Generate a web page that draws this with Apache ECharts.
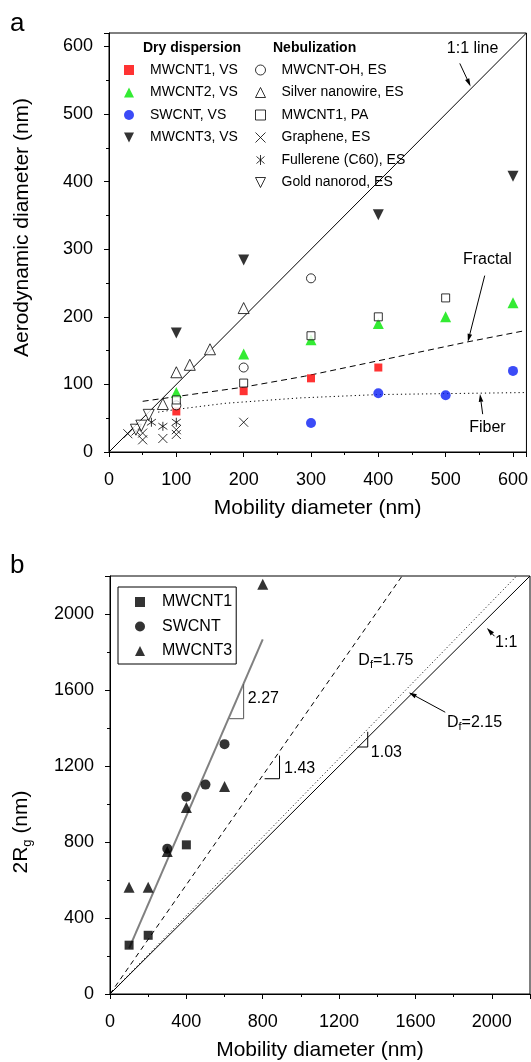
<!DOCTYPE html>
<html>
<head>
<meta charset="utf-8">
<script src="https://cdn.jsdelivr.net/npm/echarts@6/dist/echarts.min.js"></script>
<style>
  html, body { margin: 0; padding: 0; background: #fff; }
  #chart { width: 531px; height: 1062px; }
</style>
</head>
<body>
<div id="chart"></div>
<script>
// ---- panel a : aerodynamic vs mobility diameter (nm) ----
// dry dispersion, vortex shaker
const mwcnt1VS = [[100, 60], [200, 90], [300, 109], [400, 125]];
const mwcnt2VS = [[100, 88], [200, 145], [300, 166], [400, 190], [500, 200], [600, 221]];
const swcntVS = [[300, 43], [400, 87], [500, 84], [600, 120]];
const mwcnt3VS = [[100, 176], [200, 284], [400, 351], [600, 408]];
// nebulization
const mwcntOH = [[100, 69], [200, 125], [300, 257]];
const silverNW = [[80, 71], [100, 118], [120, 129], [150, 152], [200, 213]];
const mwcnt1PA = [[100, 77], [200, 102], [300, 172], [400, 200], [500, 228]];
const graphene = [[28, 27], [40, 31], [50, 18], [50, 28], [80, 20], [100, 26], [100, 33], [200, 44]];
const fullerene = [[63, 44], [80, 38], [100, 44]];
const goldNR = [[40, 33], [48, 39], [59, 55]];
// model curves
const oneToOneA = [[0, 0], [620, 620]];
const fractalCurve = [[50, 75], [200, 96], [290, 112], [400, 135], [533, 163], [620, 180]];
const fiberCurve = [[73, 59], [100, 63], [172, 72], [283, 80], [400, 85], [620, 88]];
const ticksA = [0, 100, 200, 300, 400, 500, 600];

// ---- panel b : 2Rg vs mobility diameter (nm) ----
const mwcnt1B = [[100, 257], [200, 309], [400, 785]];
const swcntB = [[300, 765], [400, 1038], [500, 1102], [600, 1315]];
const mwcnt3B = [[100, 562], [200, 562], [300, 750], [400, 982], [600, 1092], [800, 2156]];
const fitLine = [[100, 240], [800, 1866]];
const df175 = [[0, 0], [1530, 2200]];
const df215 = [[0, 0], [2130, 2200]];
const oneToOneB = [[0, 0], [2200, 2200]];
const ticksB = [0, 400, 800, 1200, 1600, 2000];

const FONT = 'Liberation Sans, Arial, sans-serif';
const DOWN_TRI = 'path://M0 0L10 0L5 10Z';

function axis(gridIndex, max, interval, ticks, name, gap, margin, extra) {
  return Object.assign({
    type: 'value', gridIndex: gridIndex, min: 0, max: max, interval: interval,
    name: name, nameLocation: 'middle', nameGap: gap,
    nameTextStyle: {fontSize: 21, color: '#000', fontFamily: FONT},
    axisLine: {show: true, onZero: false, lineStyle: {color: '#000', width: 1}},
    axisTick: {show: true, inside: false, length: 5, lineStyle: {color: '#000', width: 1}},
    minorTick: {show: true, splitNumber: 2, length: 3, lineStyle: {color: '#000', width: 1}},
    axisLabel: {
      fontSize: 18, color: '#000', fontFamily: FONT, margin: margin, showMaxLabel: false,
      formatter: v => (ticks.indexOf(v) >= 0 ? String(v) : '')
    },
    splitLine: {show: false}
  }, extra || {});
}

function scatter(name, data, symbol, size, color, opts) {
  return Object.assign({
    name: name, type: 'scatter', data: data, symbol: symbol, symbolSize: size,
    itemStyle: {color: color}, z: 5
  }, opts || {});
}
const open = {color: '#fff', borderColor: '#000', borderWidth: 1};
const stroke = {color: 'rgba(0,0,0,0)', borderColor: '#000', borderWidth: 1};

function line(data, xi, color, width, type) {
  return {
    type: 'line', xAxisIndex: xi, yAxisIndex: xi, data: data, showSymbol: false, symbol: 'none',
    lineStyle: {color: color, width: width, type: type}, z: 2
  };
}

const legendText = {fontSize: 14, lineHeight: 10, color: '#000', fontFamily: FONT, padding: [0, 0, 0, 11]};

const option = {
  animation: false,
  textStyle: {fontFamily: FONT},
  grid: [
    {left: 109, top: 33, width: 419, height: 419, show: true, borderColor: '#000', borderWidth: 1},
    {left: 109, top: 576, width: 421, height: 420, show: true, borderColor: '#000', borderWidth: 1}
  ],
  xAxis: [
    axis(0, 620, 100, ticksA, 'Mobility diameter (nm)', 46, 19),
    axis(1, 2200, 400, ticksB, 'Mobility diameter (nm)', 46, 19)
  ],
  yAxis: [
    axis(0, 620, 100, ticksA, 'Aerodynamic diameter (nm)', 76, 16, {
      nameTextStyle: {fontSize: 21, color: '#000', fontFamily: FONT, padding: [0, 0, 0, 30]}
    }),
    axis(1, 2200, 400, ticksB, '2R{s|g} (nm)', 76, 16, {
      nameTextStyle: {
        fontSize: 21, color: '#000', fontFamily: FONT, lineHeight: 26, padding: [0, 94, 0, 0],
        rich: {s: {fontSize: 13, fontFamily: FONT, color: '#000', verticalAlign: 'bottom', lineHeight: 13}}
      }
    })
  ],
  legend: [
    {
      data: ['MWCNT1, VS', 'MWCNT2, VS', 'SWCNT, VS', 'MWCNT3, VS'],
      orient: 'vertical', left: 124, top: 63, padding: 0,
      itemWidth: 10, itemHeight: 10, itemGap: 8.5, selectedMode: false,
      itemStyle: {borderWidth: 1}, textStyle: legendText
    },
    {
      data: ['MWCNT-OH, ES', 'Silver nanowire, ES', 'MWCNT1, PA', 'Graphene, ES', 'Fullerene (C60), ES', 'Gold nanorod, ES'],
      orient: 'vertical', left: 255, top: 63, padding: 0,
      itemWidth: 10, itemHeight: 10, itemGap: 8.5, selectedMode: false,
      itemStyle: {borderWidth: 1}, textStyle: legendText
    },
    {
      data: ['MWCNT1', 'SWCNT', 'MWCNT3'],
      orient: 'vertical', left: 118, top: 587, padding: [7, 4, 5, 17],
      borderColor: '#000', borderWidth: 1,
      itemWidth: 10, itemHeight: 10, itemGap: 8.5, selectedMode: false,
      textStyle: {fontSize: 16, lineHeight: 10, color: '#000', fontFamily: FONT, padding: [0, 0, 0, 12]}
    }
  ],
  series: [
    line(oneToOneA, 0, '#000', 1, 'solid'),
    line(fractalCurve, 0, '#000', 1, [6, 4]),
    line(fiberCurve, 0, '#000', 1, [1.2, 3]),
    scatter('MWCNT1, VS', mwcnt1VS, 'rect', 8, '#ff0000'),
    scatter('MWCNT2, VS', mwcnt2VS, 'triangle', 11, '#00e600'),
    scatter('SWCNT, VS', swcntVS, 'circle', 10, '#0a1ef5'),
    scatter('MWCNT3, VS', mwcnt3VS, DOWN_TRI, 11, '#000'),
    scatter('MWCNT-OH, ES', mwcntOH, 'circle', 9, '#fff', {itemStyle: open}),
    scatter('Silver nanowire, ES', silverNW, 'triangle', 11, '#fff', {itemStyle: open}),
    scatter('MWCNT1, PA', mwcnt1PA, 'rect', 8, '#fff', {itemStyle: open}),
    scatter('Graphene, ES', graphene, 'path://M0 0L10 10M10 0L0 10', 9, '#000', {itemStyle: stroke}),
    scatter('Fullerene (C60), ES', fullerene, 'path://M5 0L5 10M1 1.5L9 8.5M9 1.5L1 8.5', 9, '#000', {itemStyle: stroke}),
    scatter('Gold nanorod, ES', goldNR, DOWN_TRI, 11, '#fff', {itemStyle: open}),

    line(oneToOneB, 1, '#000', 1, 'solid'),
    line(df215, 1, '#000', 1, [1, 2.5]),
    line(df175, 1, '#000', 1, [5, 4]),
    line(fitLine, 1, '#808080', 2, 'solid'),
    scatter('MWCNT1', mwcnt1B, 'rect', 9, '#000', {xAxisIndex: 1, yAxisIndex: 1}),
    scatter('SWCNT', swcntB, 'circle', 10, '#000', {xAxisIndex: 1, yAxisIndex: 1}),
    scatter('MWCNT3', mwcnt3B, 'triangle', 11, '#000', {xAxisIndex: 1, yAxisIndex: 1})
  ]
};

const chart = echarts.init(document.getElementById('chart'), null, {renderer: 'canvas', width: 531, height: 1062});
chart.setOption(option);

// ---- annotations, placed in data coordinates ----
const sub = {s: {fontSize: 11, fontFamily: FONT, fill: '#000', verticalAlign: 'bottom', lineHeight: 11}};
const labelsA = [
  {t: '1:1 line', at: [540, 597], align: 'center'},
  {t: 'Fractal', at: [562, 284], align: 'center'},
  {t: 'Fiber', at: [562, 36], align: 'center'}
];
const arrowsA = [[[521, 575], [537, 541]], [[558, 261], [533, 163]], [[555, 56], [551, 86]]];
const labelsB = [
  {t: '2.27', at: [722, 1553], align: 'left'},
  {t: '1.43', at: [912, 1188], align: 'left'},
  {t: '1.03', at: [1366, 1269], align: 'left'},
  {t: 'D{s|f}=1.75', at: [1301, 1753], align: 'left'},
  {t: 'D{s|f}=2.15', at: [1765, 1431], align: 'left'},
  {t: '1:1', at: [2017, 1848], align: 'left'}
];
const arrowsB = [[[1756, 1483], [1565, 1587]], [[2014, 1883], [1974, 1926]]];
const slopeMarks = [
  {pts: [[625, 1449], [700, 1449], [700, 1631]], color: '#555'},
  {pts: [[810, 1133], [888, 1133], [888, 1255]], color: '#000'},
  {pts: [[1295, 1300], [1350, 1300], [1350, 1380]], color: '#000'}
];

function px(g, p) { return chart.convertToPixel({gridIndex: g}, p); }

function text(g, l, size) {
  const p = px(g, l.at);
  return {
    type: 'text', x: p[0], y: p[1], z: 10,
    style: {text: l.t, fontSize: size, fontFamily: FONT, fill: '#000', align: l.align,
      verticalAlign: 'middle', lineHeight: 20, rich: sub}
  };
}

function arrow(g, from, to) {
  const a = px(g, from), b = px(g, to);
  const dx = b[0] - a[0], dy = b[1] - a[1], len = Math.hypot(dx, dy);
  const ux = dx / len, uy = dy / len, hl = 8, hw = 2.3;
  const bx = b[0] - ux * hl, by = b[1] - uy * hl;
  return [
    {type: 'line', z: 10, shape: {x1: a[0], y1: a[1], x2: bx, y2: by}, style: {stroke: '#000', lineWidth: 1}},
    {type: 'polygon', z: 10, shape: {points: [b, [bx - uy * hw, by + ux * hw], [bx + uy * hw, by - ux * hw]]},
      style: {fill: '#000'}}
  ];
}

const graphics = [
  {type: 'text', x: 10, y: 24, style: {text: 'a', fontSize: 26, fontFamily: FONT, fill: '#000', verticalAlign: 'middle'}},
  {type: 'text', x: 10, y: 566, style: {text: 'b', fontSize: 26, fontFamily: FONT, fill: '#000', verticalAlign: 'middle'}},
  {type: 'text', x: 143, y: 48, style: {text: 'Dry dispersion', fontSize: 14, fontWeight: 'bold', fontFamily: FONT, fill: '#000', verticalAlign: 'middle'}},
  {type: 'text', x: 273, y: 48, style: {text: 'Nebulization', fontSize: 14, fontWeight: 'bold', fontFamily: FONT, fill: '#000', verticalAlign: 'middle'}}
];
labelsA.forEach(l => graphics.push(text(0, l, 16)));
labelsB.forEach(l => graphics.push(text(1, l, 16)));
arrowsA.forEach(a => graphics.push(...arrow(0, a[0], a[1])));
arrowsB.forEach(a => graphics.push(...arrow(1, a[0], a[1])));
slopeMarks.forEach(m => graphics.push({
  type: 'polyline', z: 10, shape: {points: m.pts.map(p => px(1, p))},
  style: {stroke: m.color, lineWidth: 1, fill: null}
}));

chart.setOption({graphic: graphics});
</script>
</body>
</html>
